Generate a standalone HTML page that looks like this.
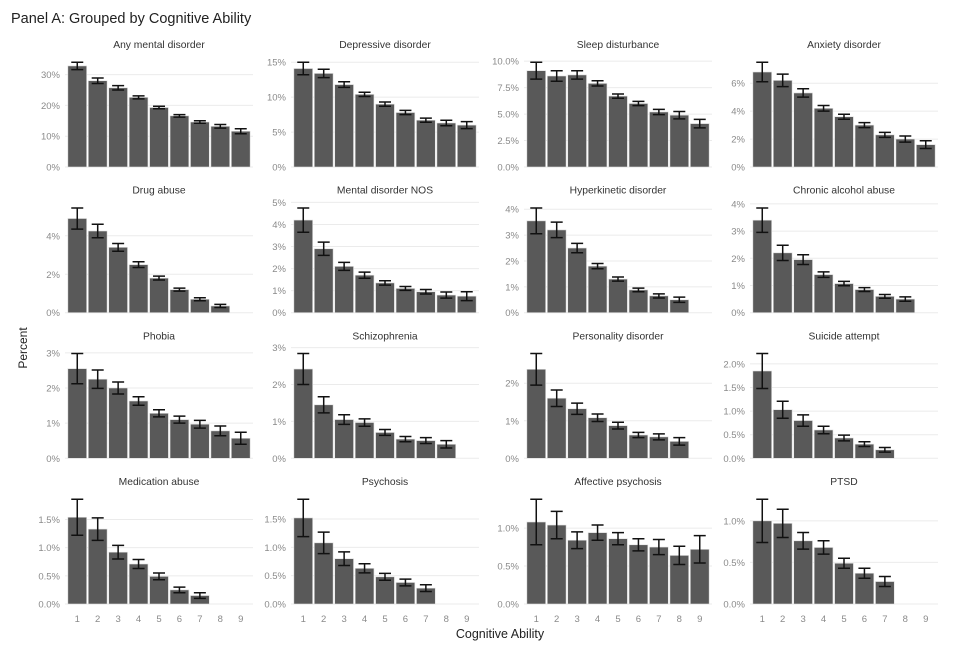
<!DOCTYPE html>
<html><head><meta charset="utf-8"><style>
html,body{margin:0;padding:0;background:#fff;}
svg{display:block;font-family:"Liberation Sans",sans-serif;}
</style></head><body>
<svg id="chart" width="962" height="647" viewBox="0 0 962 647">
<text x="11" y="23" font-size="14.5" fill="#222">Panel A: Grouped by Cognitive Ability</text>
<text transform="translate(27,348) rotate(-90)" text-anchor="middle" font-size="12" fill="#222">Percent</text>
<text x="500" y="638" text-anchor="middle" font-size="12.5" fill="#222">Cognitive Ability</text>
</svg>
<script>
const categories = [1,2,3,4,5,6,7,8,9];
const titles = ["Any mental disorder","Depressive disorder","Sleep disturbance","Anxiety disorder","Drug abuse","Mental disorder NOS","Hyperkinetic disorder","Chronic alcohol abuse","Phobia","Schizophrenia","Personality disorder","Suicide attempt","Medication abuse","Psychosis","Affective psychosis","PTSD"];
const means = [
 [32.8,28.0,25.7,22.6,19.3,16.6,14.6,13.2,11.6],
 [14.1,13.4,11.8,10.4,9.0,7.8,6.7,6.3,6.0],
 [9.1,8.6,8.7,7.9,6.7,6.0,5.2,4.9,4.1],
 [6.8,6.2,5.3,4.2,3.6,3.0,2.3,2.0,1.6],
 [4.9,4.25,3.4,2.5,1.8,1.2,0.7,0.35,null],
 [4.2,2.9,2.1,1.7,1.35,1.1,0.95,0.8,0.75],
 [3.55,3.2,2.5,1.8,1.3,0.88,0.65,0.5,null],
 [3.4,2.2,1.95,1.4,1.07,0.85,0.6,0.5,null],
 [2.55,2.25,2.0,1.63,1.28,1.1,0.97,0.78,0.57],
 [2.42,1.45,1.05,0.97,0.7,0.52,0.48,0.38,null],
 [2.37,1.6,1.32,1.08,0.87,0.62,0.57,0.45,null],
 [1.85,1.03,0.8,0.6,0.43,0.3,0.18,null,null],
 [1.54,1.33,0.92,0.71,0.49,0.25,0.15,null,null],
 [1.52,1.08,0.8,0.63,0.48,0.38,0.28,null,null],
 [1.08,1.04,0.84,0.94,0.86,0.78,0.75,0.64,0.72],
 [1.0,0.97,0.76,0.68,0.49,0.37,0.27,null,null]
];
const errs = [
 [1.2,0.9,0.7,0.5,0.4,0.4,0.4,0.6,0.8],
 [0.9,0.6,0.4,0.3,0.3,0.3,0.3,0.4,0.5],
 [0.8,0.5,0.4,0.25,0.2,0.2,0.25,0.35,0.4],
 [0.7,0.45,0.3,0.2,0.18,0.18,0.18,0.22,0.28],
 [0.55,0.35,0.2,0.15,0.1,0.08,0.08,0.08,null],
 [0.55,0.3,0.18,0.14,0.1,0.09,0.1,0.14,0.2],
 [0.5,0.3,0.18,0.1,0.08,0.07,0.08,0.1,null],
 [0.45,0.28,0.18,0.1,0.08,0.07,0.07,0.08,null],
 [0.43,0.26,0.17,0.12,0.1,0.1,0.11,0.14,0.17],
 [0.42,0.22,0.13,0.1,0.08,0.07,0.08,0.1,null],
 [0.42,0.22,0.15,0.1,0.09,0.07,0.08,0.1,null],
 [0.37,0.18,0.12,0.08,0.06,0.05,0.05,null,null],
 [0.32,0.2,0.12,0.08,0.06,0.05,0.05,null,null],
 [0.33,0.19,0.12,0.08,0.06,0.06,0.06,null,null],
 [0.3,0.18,0.11,0.1,0.08,0.08,0.1,0.12,0.18],
 [0.26,0.17,0.1,0.08,0.06,0.06,0.06,null,null]
];
const ticks = [
 [0,10,20,30],[0,5,10,15],[0,2.5,5,7.5,10],[0,2,4,6],
 [0,2,4],[0,1,2,3,4,5],[0,1,2,3,4],[0,1,2,3,4],
 [0,1,2,3],[0,1,2,3],[0,1,2],[0,0.5,1,1.5,2],
 [0,0.5,1,1.5],[0,0.5,1,1.5],[0,0.5,1],[0,0.5,1]
];
const tickDecimals = [0,0,1,0, 0,0,0,0, 0,0,0,1, 1,1,1,1];

const svg = document.getElementById('chart');
const NS = 'http://www.w3.org/2000/svg';
const colLeft = [65,291,524,750];
const rowBase = [167,312.7,458.3,604];
const plotW = 188, plotH = 110;
function mk(tag, attrs){const e=document.createElementNS(NS,tag);for(const k in attrs)e.setAttribute(k,attrs[k]);return e;}

titles.forEach((title, p) => {
  const r = Math.floor(p/4), c = p%4;
  const L = colLeft[c], y0 = rowBase[r];
  const step = plotW/(categories.length - 1 + 1.2);
  const xPos = i => L + (0.6 + i)*step;
  let maxHi = 0;
  means[p].forEach((m,i)=>{ if(m!==null) maxHi=Math.max(maxHi,m+errs[p][i]); });
  const top = maxHi*1.05;
  const yPos = v => y0 - v/top*plotH;
  const g = mk('g',{});
  
  
  svg.appendChild(g);
  const t = mk('text',{x:L+plotW/2,y:y0-plotH-9,'text-anchor':'middle','font-size':'10.3','fill':'#333'});
  t.textContent = title;
  
  
  g.appendChild(t);
  ticks[p].forEach(tv => {
    const y = yPos(tv);
    const gl = mk('line',{x1:L,x2:L+plotW,y1:y,y2:y,stroke:'#ebebeb','stroke-width':'1'});
    
    
    g.appendChild(gl);
    const tl = mk('text',{x:L-5,y:y+3.5,'text-anchor':'end','font-size':'9.5','fill':'#8a8a8a'});
    tl.textContent = tv.toFixed(tickDecimals[p]) + '%';
    
    
    g.appendChild(tl);
  });
  means[p].forEach((m,i) => {
    if(m===null) return;
    const cx = xPos(i), bw = step*0.92;
    const b = mk('rect',{x:cx-bw/2,y:yPos(m),width:bw,height:y0-yPos(m),fill:'#595959',stroke:'#e0e0e0','stroke-width':'0.6'});
    
    
    g.appendChild(b);
    const e = errs[p][i], yl = yPos(m-e), yh = yPos(m+e), cw = 6;
    const eb = mk('path',{d:`M${cx},${yh}V${yl}M${cx-cw},${yh}H${cx+cw}M${cx-cw},${yl}H${cx+cw}`,stroke:'#111','stroke-width':'1.5',fill:'none'});
    
    
    g.appendChild(eb);
  });
  if(r===3){
    categories.forEach((cat,i)=>{
      const xl = mk('text',{x:xPos(i),y:y0+18,'text-anchor':'middle','font-size':'9.5','fill':'#8a8a8a'});
      xl.textContent = cat;
      
      
      g.appendChild(xl);
    });
  }
});
</script>
</body></html>
